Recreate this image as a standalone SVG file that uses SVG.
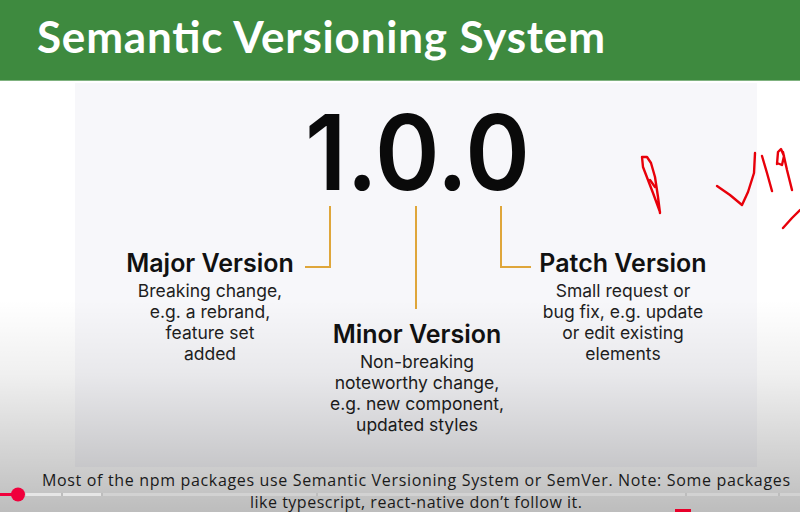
<svg xmlns="http://www.w3.org/2000/svg" width="800" height="512" viewBox="0 0 800 512">
<defs>
<linearGradient id="shade" x1="0" y1="0" x2="0" y2="1">
<stop offset="0" stop-color="#000" stop-opacity="0"/>
<stop offset="0.35" stop-color="#000" stop-opacity="0.06"/>
<stop offset="1" stop-color="#000" stop-opacity="0.26"/>
</linearGradient>
<style>
.title{font-family:Lato,"Open Sans",sans-serif;font-weight:700;fill:#fff}
.ver{font-family:Inter,"Liberation Sans",sans-serif;font-weight:600;fill:#0a0a0a}
.head{font-family:Inter,"Liberation Sans",sans-serif;font-weight:600;font-size:25px;fill:#111;text-anchor:middle}
.body{font-family:Inter,"Liberation Sans",sans-serif;font-weight:400;font-size:17.5px;fill:#1e1e1e;text-anchor:middle}
.conn{fill:none;stroke:#dfa63a;stroke-width:2}
.cap{font-family:"Open Sans","Liberation Sans",sans-serif;font-size:16px;fill:#1a1a1a;text-anchor:middle}
.ink{fill:none;stroke:#e8000a;stroke-width:2.4;stroke-linecap:round;stroke-linejoin:round}
</style>
</defs>
<rect x="0" y="0" width="800" height="512" fill="#ffffff"/>
<rect x="0" y="0" width="800" height="80" fill="#3e8a3f"/>
<rect x="0" y="80" width="800" height="1" fill="#7fb27f"/>
<text class="title" x="37" y="53" font-size="44" textLength="568">Semantic Versioning System</text>
<rect x="75" y="83" width="682" height="384" fill="#f7f7fa"/>

<g id="version">
<text class="ver" x="305" y="190" font-size="104" textLength="225" lengthAdjust="spacingAndGlyphs">1.0.0</text>
</g>

<g id="connectors">
<path class="conn" d="M330,206 V267 H305"/>
<path class="conn" d="M416,206 V309"/>
<path class="conn" d="M501,206 V267 H531"/>
</g>

<g id="major">
<text class="head" x="210" y="272">Major Version</text>
<text class="body" x="210" y="297">Breaking change,</text>
<text class="body" x="210" y="318">e.g. a rebrand,</text>
<text class="body" x="210" y="339">feature set</text>
<text class="body" x="210" y="360">added</text>
</g>

<g id="minor">
<text class="head" x="417" y="343">Minor Version</text>
<text class="body" x="417" y="368">Non-breaking</text>
<text class="body" x="417" y="389">noteworthy change,</text>
<text class="body" x="417" y="410">e.g. new component,</text>
<text class="body" x="417" y="431">updated styles</text>
</g>

<g id="patch">
<text class="head" x="623" y="272">Patch Version</text>
<text class="body" x="623" y="297">Small request or</text>
<text class="body" x="623" y="318">bug fix, e.g. update</text>
<text class="body" x="623" y="339">or edit existing</text>
<text class="body" x="623" y="360">elements</text>
</g>

<g id="ink">
<path class="ink" d="M660,213 L658,197 L655,177 L651,163 L647,157 L642,157 L643,167 L648,180 L653,193 L660,212"/>
<path class="ink" d="M650,180 L655,187"/>
<path class="ink" d="M717,186 L730,195 L742,205 L748,192 L754,173 L755,153"/>
<path class="ink" d="M762,156 L767,173 L772,191"/>
<path class="ink" d="M777,164 L778,152 L781,149 L784,156 L782,165 L777,163 M783,152 L787,170 L792,190"/>
<path class="ink" d="M783,228 L792,218 L800,210"/>
</g>

<rect x="0" y="300" width="800" height="212" fill="url(#shade)"/>

<rect x="0" y="493" width="800" height="3" fill="#d2d2d2"/>
<rect x="26" y="493" width="35" height="3" fill="#e6e6e6"/>
<rect x="63" y="493" width="38" height="3" fill="#e6e6e6"/>
<rect x="61" y="493" width="2" height="3" fill="#bdbdbd"/>
<rect x="101" y="493" width="2" height="3" fill="#bdbdbd"/>
<rect x="316" y="493" width="2" height="3" fill="#bdbdbd"/>
<rect x="685" y="493" width="2" height="3" fill="#bdbdbd"/>
<rect x="778" y="493" width="2" height="3" fill="#bdbdbd"/>
<rect x="0" y="493" width="18" height="3" fill="#f0003c"/>
<circle cx="18" cy="494.5" r="7" fill="#f0003c"/>
<rect x="675" y="509" width="16" height="3" fill="#e8002a"/>

<text class="cap" x="416" y="486" textLength="748">Most of the npm packages use Semantic Versioning System or SemVer. Note: Some packages</text>
<text class="cap" x="416" y="508" textLength="332">like typescript, react-native don’t follow it.</text>
</svg>
